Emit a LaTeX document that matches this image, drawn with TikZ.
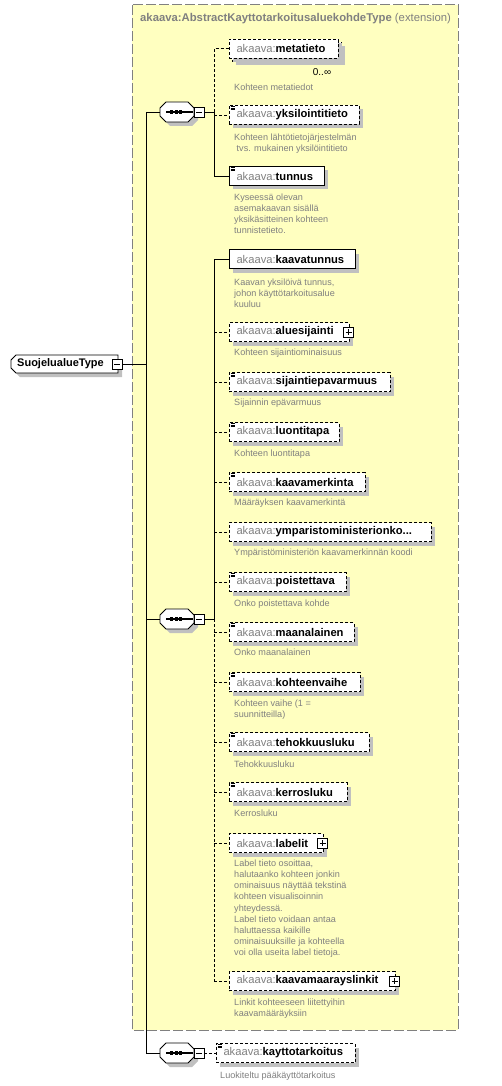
\documentclass[tikz,border=0pt]{standalone}
\usepackage{fontspec}
\setmainfont{Liberation Sans}
\usetikzlibrary{shadows}
\definecolor{ybg}{RGB}{255,255,192}
\definecolor{ygr}{RGB}{128,128,128}
\definecolor{shd}{RGB}{192,192,192}
\definecolor{dsc}{RGB}{128,128,128}
\newcommand\nm[1]{\textcolor{ygr}{akaava:}\textbf{#1}}
\newcommand\chp[4]{([shift={(#4+#2,#4)}]#1.north west) -- ([shift={(#4-#3,#4)}]#1.north east) -- ([shift={(#4,#4+#3)}]#1.north east) -- ([shift={(#4,#4-#3)}]#1.south east) -- ([shift={(#4-#3,#4)}]#1.south east) -- ([shift={(#4+#2,#4)}]#1.south west) -- ([shift={(#4,#4-#2)}]#1.south west) -- ([shift={(#4,#4+#2)}]#1.north west) -- cycle}
\newcommand\seqshape[1]{%
  \fill[shd] \chp{#1}{6}{6}{4};
  \draw[fill=white,line width=0.9pt] \chp{#1}{6}{6}{0};
  \draw[line width=1.1pt] ([shift={(6,0)}]#1.west) -- ([shift={(-1,0)}]#1.east);
  \foreach \dx in {10,14.5,19} {\fill ([shift={(\dx,-1.6)}]#1.west) rectangle ++(3.2,3.2);}
}
\newcommand\icon[1]{%
  \foreach \dy in {1.2,2.7,4.2} {\draw[line width=0.6pt] ([shift={(1.5,\dy)}]#1.north west) -- ++(4.5,0);}
}
\newcommand\minusbox[2]{%
  \node[sbox] (#1) at (#2) {};
  \draw[line width=0.8pt] ([shift={(2,0)}]#1.west) -- ([shift={(-2,0)}]#1.east);
}
\newcommand\plusbox[2]{%
  \node[sbox] (#1) at (#2) {};
  \draw[line width=0.8pt] ([shift={(2,0)}]#1.west) -- ([shift={(-2,0)}]#1.east);
  \draw[line width=0.8pt] ([shift={(0,2)}]#1.north) -- ([shift={(0,-2)}]#1.south);
}
\tikzset{
  elem/.style={draw=black, fill=white, line width=0.9pt, anchor=west,
    minimum height=19pt, inner xsep=7.5pt, inner ysep=0pt, outer sep=0pt,
    font=\fontsize{11.2}{13}\selectfont, align=left,
    drop shadow={shadow xshift=4pt, shadow yshift=-4pt, fill=shd, opacity=1}},
  optelem/.style={elem, dash pattern=on 3pt off 2pt},
  reqelem/.style={elem},
  desc/.style={anchor=north west, inner sep=0pt, font=\fontsize{9.1}{11.2}\selectfont, text=dsc, align=left},
  conn/.style={line width=0.9pt},
  dconn/.style={conn, dash pattern=on 3pt off 2pt},
  seqn/.style={draw=none, minimum width=34pt, minimum height=20pt, inner sep=0pt, outer sep=0pt},
  sbox/.style={draw=black, fill=white, line width=0.8pt, minimum width=10pt, minimum height=10pt, inner sep=0pt, outer sep=0pt},
}
\begin{document}
\begin{tikzpicture}[x=1pt,y=-1pt]
\useasboundingbox (0,0) rectangle (501,1086);
\fill[white] (0,0) rectangle (501,1086);
% extension box
\draw[fill=ybg, draw=ygr, line width=1pt, dash pattern=on 10pt off 3pt] (132,5) rectangle (458,1030);
\node[anchor=west, inner sep=0pt, text=ygr, font=\fontsize{11.3}{13}\selectfont] (title) at (140,19) {\textbf{akaava:AbstractKayttotarkoitusaluekohdeType} (extension)};

% root
\node[seqn, minimum width=107pt, minimum height=18pt] (rootbg) at (64.5,364) {};
\fill[shd] \chp{rootbg}{5}{0}{4};
\draw[fill=white,line width=0.9pt] \chp{rootbg}{5}{0}{0};
\node[anchor=west, inner sep=0pt, font=\fontsize{11}{13}\selectfont] (root) at (17,364) {\textbf{SuojelualueType}};
\minusbox{rootm}{117,364}

% sequences
\node[seqn] (s1) at (177,112) {};
\seqshape{s1}
\minusbox{s1m}{199,112}
\node[seqn] (s2) at (177,619) {};
\seqshape{s2}
\minusbox{s2m}{199,619}
\node[seqn] (s3) at (177,1053) {};
\seqshape{s3}
\minusbox{s3m}{199,1053}

% sequence 1 children
\node[optelem, minimum width=109pt, minimum height=19pt] (metaback) at (232,51.5) {};
\node[optelem, text width=94pt] (metatieto) at (229,48.5) {\nm{metatieto}};
\node[anchor=center, inner sep=0pt, font=\fontsize{10}{12}\selectfont] (mult) at (322,72) {0..∞};
\node[desc] (d1) at (234,83.5) {Kohteen metatiedot};

\node[optelem, text width=115pt] (yksi) at (229,115) {\nm{yksilointitieto}};
\icon{yksi}
\node[desc] (d2) at (234,133.5) {Kohteen lähtötietojärjestelmän\\\hspace{2.5pt}tvs. mukainen yksilöintitieto};

\node[reqelem, text width=80pt] (tunnus) at (229,176) {\nm{tunnus}};
\icon{tunnus}
\node[desc] (d3) at (234,193.5) {Kyseessä olevan\\asemakaavan sisällä\\yksikäsitteinen kohteen\\tunnistetieto.};

% sequence 2 children
\node[reqelem, text width=111pt] (kaavatunnus) at (229,259) {\nm{kaavatunnus}};
\node[desc] (d4) at (234,278.5) {Kaavan yksilöivä tunnus,\\johon käyttötarkoitusalue\\kuuluu};

\node[optelem, text width=105pt] (alue) at (229,332) {\nm{aluesijainti}};
\plusbox{aluep}{348.5,332}
\node[desc] (d5) at (234,348.5) {Kohteen sijaintiominaisuus};

\node[optelem, text width=146pt] (sijep) at (229,382) {\nm{sijaintiepavarmuus}};
\icon{sijep}
\node[desc] (d6) at (234,398.5) {Sijainnin epävarmuus};

\node[optelem, text width=95pt] (luonti) at (229,432) {\nm{luontitapa}};
\icon{luonti}
\node[desc] (d7) at (234,449.5) {Kohteen luontitapa};

\node[optelem, text width=121pt] (kmerk) at (229,482) {\nm{kaavamerkinta}};
\icon{kmerk}
\node[desc] (d8) at (234,498.5) {Määräyksen kaavamerkintä};

\node[optelem, text width=187pt] (ymp) at (229,532) {\nm{ymparistoministerionko...}};
\node[desc] (d9) at (234,548.5) {Ympäristöministeriön kaavamerkinnän koodi};

\node[optelem, text width=102pt] (poist) at (229,582) {\nm{poistettava}};
\icon{poist}
\node[desc] (d10) at (234,599.5) {Onko poistettava kohde};

\node[optelem, text width=110pt] (maan) at (229,632) {\nm{maanalainen}};
\icon{maan}
\node[desc] (d11) at (234,648.5) {Onko maanalainen};

\node[optelem, text width=116pt] (vaihe) at (229,682) {\nm{kohteenvaihe}};
\icon{vaihe}
\node[desc] (d12) at (234,699.5) {Kohteen vaihe (1 =\\suunnitteilla)};

\node[optelem, text width=125pt] (tehok) at (229,742) {\nm{tehokkuusluku}};
\icon{tehok}
\node[desc] (d13) at (234,760.5) {Tehokkuusluku};

\node[optelem, text width=103pt] (kerros) at (229,792) {\nm{kerrosluku}};
\icon{kerros}
\node[desc] (d14) at (234,809.5) {Kerrosluku};

\node[optelem, text width=79pt] (labelit) at (229,843) {\nm{labelit}};
\plusbox{labelp}{322.5,843}
\node[desc] (d15) at (234,859.5) {Label tieto osoittaa,\\halutaanko kohteen jonkin\\ominaisuus näyttää tekstinä\\kohteen visualisoinnin\\yhteydessä.\\Label tieto voidaan antaa\\haluttaessa kaikille\\ominaisuuksille ja kohteella\\voi olla useita label tietoja.};

\node[optelem, text width=151pt] (linkit) at (229,981) {\nm{kaavamaarayslinkit}};
\plusbox{linkp}{394.5,981}
\node[desc] (d16) at (234,998.5) {Linkit kohteeseen liitettyihin\\kaavamääräyksiin};

% sequence 3 child
\node[optelem, text width=124pt] (kaytto) at (216,1053) {\nm{kayttotarkoitus}};
\icon{kaytto}
\node[desc] (d17) at (220,1071.5) {Luokiteltu pääkäyttötarkoitus};

% connectors
\coordinate (j0) at (146,364);
\coordinate (b1) at (214,112);
\coordinate (b2) at (214,619);
\draw[conn] (rootm.east) -- (j0);
\draw[conn] (s1.west -| j0) -- (s3.west -| j0);
\draw[conn] (s1.west -| j0) -- (s1.west);
\draw[conn] (s2.west -| j0) -- (s2.west);
\draw[conn] (s3.west -| j0) -- (s3.west);

\draw[conn] (s1m.east) -- (b1);
\draw[dconn] (b1) -- (metatieto.west -| b1) -- (metatieto.west);
\draw[dconn] (yksi.west -| b1) -- (yksi.west);
\draw[conn] (b1) -- (tunnus.west -| b1) -- (tunnus.west);

\draw[conn] (s2m.east) -- (b2);
\draw[conn] (b2) -- (kaavatunnus.west -| b2) -- (kaavatunnus.west);
\draw[dconn] (b2) -- (linkit.west -| b2);
\foreach \n in {alue,sijep,luonti,kmerk,ymp,poist,maan,vaihe,tehok,kerros,labelit,linkit}
  {\draw[dconn] (\n.west -| b2) -- (\n.west);}

\draw[dconn] (s3m.east) -- (kaytto.west);
\end{tikzpicture}
\end{document}
